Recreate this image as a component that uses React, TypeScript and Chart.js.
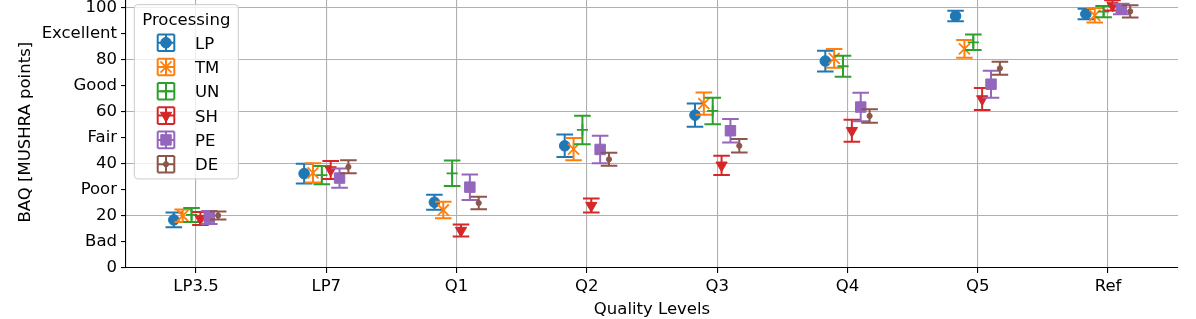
import React, { useEffect, useRef } from 'react';
import { Chart, registerables } from 'chart.js';
import { drawPoint } from 'chart.js/helpers';

Chart.register(...registerables);

// ---------- data ----------
const categories = ['LP3.5', 'LP7', 'Q1', 'Q2', 'Q3', 'Q4', 'Q5', 'Ref'];
const seriesNames = ['LP', 'TM', 'UN', 'SH', 'PE', 'DE'];

const lpMean = [18.5, 36.3, 25.3, 47.0, 58.8, 79.6, 96.9, 97.7];
const lpErr = [2.8, 3.8, 2.9, 4.3, 4.5, 4.0, 2.0, 2.0];
const tmMean = [20.1, 36.6, 22.3, 45.7, 63.2, 80.6, 84.3, 97.2];
const tmErr = [2.4, 3.7, 3.2, 4.3, 4.3, 3.6, 3.4, 2.8];
const unMean = [20.4, 35.7, 36.4, 53.1, 60.4, 77.6, 86.8, 98.6];
const unErr = [2.7, 3.5, 4.9, 5.5, 5.1, 4.0, 3.0, 2.2];
const shMean = [19.0, 37.7, 14.4, 24.0, 39.5, 52.8, 65.0, 101.0];
const shErr = [2.5, 3.5, 2.3, 2.7, 3.7, 4.2, 4.2, 2.0];
const peMean = [19.4, 34.6, 31.1, 45.6, 52.8, 61.9, 70.7, 99.6];
const peErr = [2.5, 3.7, 4.9, 5.3, 4.5, 5.5, 5.2, 2.0];
const deMean = [20.2, 38.9, 25.0, 41.8, 47.0, 58.5, 76.8, 98.7];
const deErr = [1.5, 2.5, 2.4, 2.5, 2.6, 2.6, 2.5, 2.4];

const yTickValues = [0, 10, 20, 30, 40, 50, 60, 70, 80, 90, 100];
const yTickLabels = ['0', 'Bad', '20', 'Poor', '40', 'Fair', '60', 'Good', '80', 'Excellent', '100'];

// ---------- styles ----------
const means = [lpMean, tmMean, unMean, shMean, peMean, deMean];
const errs = [lpErr, tmErr, unErr, shErr, peErr, deErr];
const colors = ['#1f77b4', '#ff7f0e', '#2ca02c', '#d62728', '#9467bd', '#8c564b'];
const markers = [
  { pointStyle: 'circle', radius: 5.3, borderWidth: 1, rotation: 0 },
  { pointStyle: 'crossRot', radius: 7.8, borderWidth: 1.8, rotation: 0 },
  { pointStyle: 'cross', radius: 5.6, borderWidth: 1.8, rotation: 0 },
  { pointStyle: 'triangle', radius: 6.5, borderWidth: 1, rotation: 180 },
  { pointStyle: 'rect', radius: 7.4, borderWidth: 1, rotation: 0 },
  { pointStyle: 'circle', radius: 2.6, borderWidth: 1, rotation: 0 },
];
const DODGE = 0.068;
const FONT = "'DejaVu Sans', sans-serif";
const FS = 16.5;
const CAP = 8.3;
const ELW = 2;

const errorBarPlugin = {
  id: 'errorBars',
  beforeDatasetDraw(chart: any, args: any) {
    const ds = chart.data.datasets[args.index];
    const yScale = chart.scales.y;
    const { ctx, chartArea } = chart;
    ctx.save();
    ctx.beginPath();
    ctx.rect(chartArea.left, chartArea.top, chartArea.right - chartArea.left, chartArea.bottom - chartArea.top);
    ctx.clip();
    ctx.strokeStyle = ds.borderColor;
    ctx.lineWidth = ELW;
    ctx.lineCap = 'butt';
    args.meta.data.forEach((pt: any, i: number) => {
      const d = ds.data[i];
      const x = pt.x;
      const yt = yScale.getPixelForValue(d.y + d.e);
      const yb = yScale.getPixelForValue(d.y - d.e);
      ctx.beginPath();
      ctx.moveTo(x, yt);
      ctx.lineTo(x, yb);
      ctx.moveTo(x - CAP, yt);
      ctx.lineTo(x + CAP, yt);
      ctx.moveTo(x - CAP, yb);
      ctx.lineTo(x + CAP, yb);
      ctx.stroke();
    });
    ctx.restore();
  },
};

const legendPlugin = {
  id: 'mplLegend',
  afterDraw(chart: any) {
    const { ctx, chartArea } = chart;
    const L = chartArea.left + 8.3;
    const T = chartArea.top + 8.3;
    const W = 104;
    const H = 174.3;
    ctx.save();
    ctx.beginPath();
    if (ctx.roundRect) ctx.roundRect(L, T, W, H, 3.5);
    else ctx.rect(L, T, W, H);
    ctx.fillStyle = 'rgba(255,255,255,0.8)';
    ctx.fill();
    ctx.strokeStyle = '#cccccc';
    ctx.lineWidth = 1;
    ctx.stroke();

    ctx.font = `${FS}px ${FONT}`;
    ctx.fillStyle = '#000';
    ctx.textAlign = 'center';
    ctx.textBaseline = 'alphabetic';
    ctx.fillText('Processing', L + W / 2, T + 20.3);

    seriesNames.forEach((name, k) => {
      const cy = T + 38.1 + k * 24.3;
      const cx = L + 31.7;
      const h = 8.3;
      ctx.strokeStyle = colors[k];
      ctx.fillStyle = colors[k];
      ctx.lineWidth = ELW;
      ctx.beginPath();
      ctx.moveTo(cx - h, cy); ctx.lineTo(cx + h, cy);
      ctx.moveTo(cx, cy - h); ctx.lineTo(cx, cy + h);
      ctx.moveTo(cx - h, cy - h); ctx.lineTo(cx + h, cy - h);
      ctx.moveTo(cx - h, cy + h); ctx.lineTo(cx + h, cy + h);
      ctx.moveTo(cx - h, cy - h); ctx.lineTo(cx - h, cy + h);
      ctx.moveTo(cx + h, cy - h); ctx.lineTo(cx + h, cy + h);
      ctx.stroke();
      ctx.lineWidth = markers[k].borderWidth;
      drawPoint(ctx, markers[k] as any, cx, cy);
      ctx.fillStyle = '#000';
      ctx.textAlign = 'left';
      ctx.fillText(name, L + 60.7, cy + 6);
    });
    ctx.restore();
  },
};

export default function App() {
  const ref = useRef<HTMLCanvasElement | null>(null);

  useEffect(() => {
    if (!ref.current) return;
    const datasets = seriesNames.map((name, k) => ({
      label: name,
      data: categories.map((_, i) => ({ x: i + (k - 2.5) * DODGE, y: means[k][i], e: errs[k][i] })),
      showLine: false,
      borderColor: colors[k],
      backgroundColor: colors[k],
      pointStyle: markers[k].pointStyle,
      pointRadius: markers[k].radius,
      pointBorderWidth: markers[k].borderWidth,
      pointRotation: markers[k].rotation,
      order: seriesNames.length - 1 - k,
    }));

    const chart = new Chart(ref.current, {
      type: 'scatter',
      data: { datasets } as any,
      options: {
        animation: false,
        responsive: false,
        devicePixelRatio: 1,
        layout: { autoPadding: false, padding: { top: 0.3, right: 18, bottom: 0, left: 0 } },
        plugins: { legend: { display: false }, tooltip: { enabled: false } },
        scales: {
          x: {
            type: 'linear',
            min: -0.537,
            max: 7.537,
            afterBuildTicks: (scale: any) => {
              scale.ticks = categories.map((_, i) => ({ value: i }));
            },
            afterFit: (scale: any) => {
              scale.height = 51;
              scale.paddingLeft = 0;
              scale.paddingRight = 0;
            },
            ticks: {
              callback: (v: any) => categories[v] ?? '',
              color: '#000',
              font: { family: FONT, size: FS },
              padding: 4,
              maxRotation: 0,
              autoSkip: false,
            },
            grid: { color: '#b0b0b0', lineWidth: 1.1, tickColor: '#000', tickLength: 5, tickWidth: 1.1 },
            border: { display: true, color: '#000', width: 1.1 },
            title: {
              display: true,
              text: 'Quality Levels',
              color: '#000',
              font: { family: FONT, size: FS, lineHeight: 1.2 },
              padding: { top: 0, bottom: -1 },
            },
          },
          y: {
            type: 'linear',
            min: 0,
            max: 104.5,
            afterBuildTicks: (scale: any) => {
              scale.ticks = yTickValues.map((v) => ({ value: v }));
            },
            afterFit: (scale: any) => {
              scale.width = 126;
              scale.paddingTop = 0;
              scale.paddingBottom = 0;
            },
            ticks: {
              callback: (v: any) => {
                const idx = yTickValues.indexOf(v);
                return idx >= 0 ? yTickLabels[idx] : '';
              },
              color: '#000',
              font: { family: FONT, size: FS },
              padding: 4,
              autoSkip: false,
            },
            grid: {
              color: (c: any) => (c.tick && c.tick.value % 20 === 0 ? '#b0b0b0' : 'rgba(0,0,0,0)'),
              lineWidth: 1.1,
              tickColor: '#000',
              tickLength: 5,
              tickWidth: 1.1,
            },
            border: { display: true, color: '#000', width: 1.1 },
            title: {
              display: true,
              text: 'BAQ [MUSHRA points]',
              color: '#000',
              font: { family: FONT, size: FS, lineHeight: 1.2 },
              padding: { top: 16, bottom: 0 },
            },
          },
        },
      } as any,
      plugins: [errorBarPlugin, legendPlugin],
    });
    return () => chart.destroy();
  }, []);

  return (
    <div style={{ position: 'absolute', left: 0, top: -4, width: 1196, height: 323 }}>
      <canvas ref={ref} width={1196} height={323} style={{ display: 'block', width: 1196, height: 323 }} />
    </div>
  );
}
